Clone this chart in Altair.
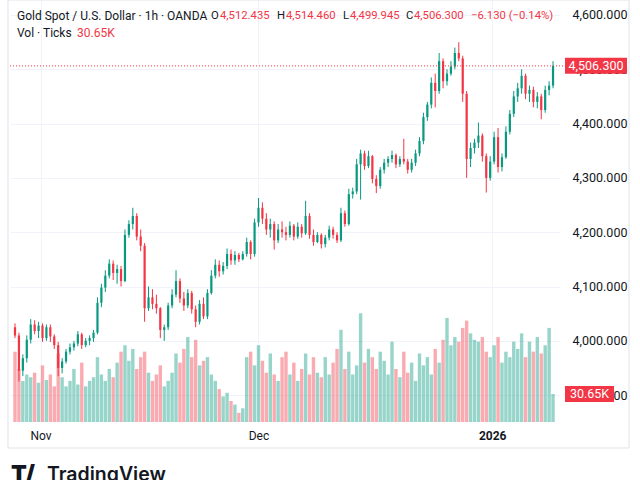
import altair as alt
import pandas as pd

# ---------------- data ----------------
opens = [4025, 4010, 3945, 3968, 4002, 4030, 4018, 4028, 4005, 4025,
         4008, 3992, 3950, 3962, 3980, 3988, 3995, 4012, 3992, 4000,
         4005, 4015, 4070, 4098, 4120, 4142, 4125, 4132, 4110, 4195,
         4215, 4230, 4192, 4175, 4060, 4080, 4068, 4060, 4020, 4025,
         4065, 4085, 4110, 4078, 4065, 4088, 4058, 4035, 4068, 4045,
         4088, 4120, 4140, 4128, 4138, 4160, 4148, 4158, 4150, 4160,
         4182, 4160, 4218, 4245, 4225, 4205, 4215, 4185, 4205, 4200,
         4195, 4212, 4192, 4210, 4198, 4230, 4195, 4182, 4195, 4178,
         4190, 4205, 4195, 4185, 4235, 4215, 4270, 4275, 4325, 4345,
         4322, 4340, 4298, 4285, 4315, 4328, 4335, 4342, 4325, 4335,
         4330, 4315, 4328, 4345, 4368, 4412, 4435, 4475, 4460, 4515,
         4478, 4492, 4505, 4530, 4520, 4455, 4335, 4355, 4365, 4378,
         4340, 4300, 4330, 4375, 4320, 4338, 4385, 4418, 4450, 4465,
         4488, 4455, 4462, 4440, 4450, 4425, 4462, 4470]
highs = [4032, 4015, 3975, 4010, 4040, 4038, 4035, 4032, 4030, 4030,
         4012, 3998, 3968, 3985, 3995, 4000, 4018, 4015, 4005, 4010,
         4020, 4080, 4105, 4130, 4150, 4148, 4140, 4138, 4205, 4222,
         4245, 4235, 4205, 4180, 4100, 4095, 4085, 4062, 4030, 4070,
         4095, 4130, 4115, 4090, 4095, 4092, 4065, 4075, 4080, 4095,
         4130, 4150, 4148, 4145, 4170, 4168, 4165, 4162, 4165, 4190,
         4185, 4225, 4263, 4255, 4235, 4225, 4220, 4215, 4220, 4210,
         4220, 4215, 4218, 4215, 4258, 4235, 4205, 4200, 4198, 4195,
         4212, 4210, 4200, 4245, 4240, 4280, 4282, 4335, 4352, 4350,
         4350, 4342, 4305, 4320, 4335, 4340, 4350, 4345, 4340, 4372,
         4335, 4335, 4352, 4375, 4420, 4440, 4485, 4492, 4530, 4520,
         4500, 4515, 4540, 4550, 4525, 4460, 4365, 4372, 4402, 4382,
         4345, 4340, 4385, 4392, 4345, 4395, 4425, 4460, 4475, 4500,
         4492, 4470, 4468, 4458, 4455, 4470, 4478, 4515]
lows = [4005, 3925, 3935, 3960, 3995, 4012, 4005, 3998, 4000, 3998,
        3985, 3935, 3940, 3958, 3975, 3982, 3990, 3985, 3988, 3992,
        3998, 4012, 4062, 4090, 4115, 4112, 4105, 4100, 4108, 4190,
        4205, 4185, 4165, 4035, 4055, 4058, 4050, 4005, 4000, 4020,
        4060, 4080, 4070, 4055, 4060, 4050, 4025, 4030, 4040, 4040,
        4085, 4115, 4118, 4122, 4132, 4140, 4140, 4145, 4148, 4155,
        4150, 4155, 4210, 4215, 4195, 4190, 4168, 4180, 4190, 4185,
        4190, 4185, 4188, 4190, 4195, 4188, 4175, 4180, 4170, 4172,
        4185, 4188, 4180, 4182, 4210, 4212, 4262, 4270, 4260, 4315,
        4318, 4290, 4272, 4280, 4308, 4320, 4328, 4318, 4320, 4325,
        4308, 4310, 4322, 4340, 4362, 4405, 4428, 4430, 4455, 4465,
        4470, 4488, 4500, 4515, 4440, 4300, 4320, 4345, 4355, 4330,
        4273, 4295, 4325, 4310, 4312, 4335, 4380, 4412, 4440, 4455,
        4445, 4440, 4430, 4428, 4408, 4420, 4452, 4465]
closes = [4010, 3945, 3968, 4002, 4030, 4018, 4028, 4005, 4025, 4008,
          3992, 3950, 3962, 3980, 3988, 3995, 4012, 3992, 4000, 4005,
          4015, 4070, 4098, 4120, 4142, 4125, 4132, 4110, 4195, 4215,
          4230, 4192, 4175, 4060, 4080, 4068, 4060, 4020, 4025, 4065,
          4085, 4110, 4078, 4065, 4088, 4058, 4035, 4068, 4045, 4088,
          4120, 4140, 4128, 4138, 4160, 4148, 4158, 4150, 4160, 4182,
          4160, 4218, 4245, 4225, 4205, 4215, 4185, 4205, 4200, 4195,
          4212, 4192, 4210, 4198, 4230, 4195, 4182, 4195, 4178, 4190,
          4205, 4195, 4185, 4235, 4215, 4270, 4275, 4325, 4345, 4322,
          4340, 4298, 4285, 4315, 4328, 4335, 4342, 4325, 4335, 4330,
          4315, 4328, 4345, 4368, 4412, 4435, 4475, 4460, 4515, 4478,
          4492, 4505, 4530, 4520, 4455, 4335, 4355, 4365, 4378, 4340,
          4300, 4330, 4375, 4320, 4338, 4385, 4418, 4450, 4465, 4488,
          4455, 4462, 4440, 4450, 4425, 4462, 4470, 4506.3]
volumes_k = [77, 58, 45, 52, 49, 54, 43, 62, 46, 52,
             39, 75, 49, 39, 45, 58, 41, 65, 39, 45,
             49, 71, 52, 45, 58, 49, 65, 77, 84, 67,
             80, 58, 71, 77, 54, 45, 52, 62, 39, 45,
             54, 75, 65, 80, 93, 71, 90, 62, 67, 71,
             52, 45, 36, 28, 32, 23, 19, 10, 15, 71,
             77, 62, 84, 67, 54, 75, 52, 45, 71, 77,
             52, 65, 45, 58, 75, 52, 71, 54, 49, 71,
             52, 65, 80, 101, 58, 77, 52, 62, 119, 65,
             80, 71, 58, 77, 67, 52, 88, 58, 49, 77,
             54, 65, 45, 75, 62, 71, 52, 80, 65, 90,
             114, 84, 93, 88, 103, 111, 97, 90, 88, 93,
             77, 71, 84, 93, 65, 77, 71, 88, 80, 97,
             71, 88, 77, 93, 75, 84, 103, 30.65]

time_tick_pos = [6.5, 62, 121.5]
time_tick_labels = ["Nov", "Dec", "2026"]
price_ticks = [3900, 4000, 4100, 4200, 4300, 4400, 4500, 4600]
last_price = 4506.3
last_volume_k = 30.65

# ---------------- styling ----------------
UP, DOWN = "#089981", "#f23645"
TXT = "#131722"
GRID = "#f0f3fa"
FONT = "Roboto"
FS = 12
HFS = 11.3
AFS = 12.5

df = pd.DataFrame({"i": list(range(len(closes))), "o": opens, "h": highs,
                   "l": lows, "c": closes, "v": volumes_k})
df["dir"] = ["up" if c >= o else "down" for o, c in zip(opens, closes)]

label_expr = " : ".join(
    f"datum.value == {p} ? '{t}'" for p, t in zip(time_tick_pos[:-1], time_tick_labels[:-1])
) + f" : '{time_tick_labels[-1]}'"

x_axis = alt.Axis(values=time_tick_pos, labelExpr=label_expr, title=None, grid=True,
                  gridColor=GRID, ticks=False, domain=False, labelColor=TXT,
                  labelFontSize=FS, labelFont=FONT, labelPadding=8,
                  labelFontWeight={"condition": {"test": f"datum.value > {time_tick_pos[1]}", "value": "bold"},
                                   "value": "normal"})
x_enc = alt.X("i:Q", scale=alt.Scale(domain=[0, 137.5], nice=False, zero=False), axis=x_axis)

price_scale = alt.Scale(domain=[3850.5, 4627.6], nice=False, zero=False)
y_axis = alt.Axis(orient="right", values=price_ticks, format=",.3f", title=None, grid=True,
                  gridColor=GRID, ticks=False, domain=False, labelPadding=12,
                  labelColor=TXT, labelFontSize=AFS, labelFont=FONT)
vol_scale = alt.Scale(domain=[0, 462], nice=False, zero=True)

color = alt.Color("dir:N", scale=alt.Scale(domain=["up", "down"], range=[UP, DOWN]), legend=None)

base = alt.Chart(df)

vol_bars = base.mark_bar(size=3.4, opacity=0.42).encode(
    x=x_enc, y=alt.Y("v:Q", scale=vol_scale, axis=None), color=color)

wicks = base.mark_rule(strokeWidth=1).encode(
    x=x_enc, y=alt.Y("l:Q", scale=price_scale, axis=y_axis), y2="h:Q", color=color)
bodies = base.mark_bar(size=2.2).encode(
    x=x_enc, y=alt.Y("o:Q", scale=price_scale, axis=y_axis), y2="c:Q", color=color)

last_df = pd.DataFrame({"p": [last_price], "v": [last_volume_k],
                        "pl": [f"{last_price:,.3f}"], "vl": [f"{last_volume_k}K"]})
lb = alt.Chart(last_df)
last_line = lb.mark_rule(strokeDash=[1, 2], color=DOWN, strokeWidth=1).encode(
    y=alt.Y("p:Q", scale=price_scale, axis=y_axis), x=alt.value(0), x2=alt.value(553))
last_box = lb.mark_rule(strokeWidth=16, color=DOWN, strokeCap="butt").encode(
    y=alt.Y("p:Q", scale=price_scale, axis=y_axis), x=alt.value(555), x2=alt.value(617))
last_txt = lb.mark_text(color="white", fontSize=AFS, font=FONT, align="center", baseline="middle").encode(
    y=alt.Y("p:Q", scale=price_scale, axis=y_axis), x=alt.value(586), text="pl:N")

vol_box = lb.mark_rule(strokeWidth=16, color=DOWN, strokeCap="butt").encode(
    y=alt.Y("v:Q", scale=vol_scale, axis=None), x=alt.value(555), x2=alt.value(604))
vol_txt = lb.mark_text(color="white", fontSize=AFS, font=FONT, align="center", baseline="middle").encode(
    y=alt.Y("v:Q", scale=vol_scale, axis=None), x=alt.value(579.5), text="vl:N")

one = pd.DataFrame({"a": [0]})


def label(text, x_abs, y_abs, col=TXT, size=HFS, weight="normal", baseline="middle", font=FONT):
    return alt.Chart(one).mark_text(text=text, color=col, fontSize=size, fontWeight=weight,
                                    font=font, align="left", baseline=baseline).encode(
        x=alt.value(x_abs - 10), y=alt.value(y_abs))


header = [
    label("Gold Spot / U.S. Dollar · 1h · OANDA", 17, 16, size=FS),
    label("O", 211, 16), label("4,512.435", 220, 16, DOWN),
    label("H", 277, 16), label("4,514.460", 286, 16, DOWN),
    label("L", 343, 16), label("4,499.945", 350, 16, DOWN),
    label("C", 406, 16), label("4,506.300", 414, 16, DOWN),
    label("\u22126.130 (\u22120.14%)", 471, 16, DOWN),
    label("Vol · Ticks", 17, 33, size=FS), label("30.65K", 77, 33, DOWN, FS),
    label("T/", 11, 482, TXT, 23, 900, "alphabetic", "Inter"),
    label("TradingView", 47, 481, TXT, 19.5, 600, "alphabetic", "Inter"),
]

frame = alt.Chart(one).mark_rect(fillOpacity=0, stroke="#e0e3eb", strokeWidth=1).encode(
    x=alt.value(-2), x2=alt.value(619), y=alt.value(0), y2=alt.value(448))

vol_layer = alt.layer(vol_bars, vol_box, vol_txt)
price_layer = alt.layer(wicks, bodies, last_line, last_box, last_txt)

chart = alt.layer(frame, vol_layer, price_layer, *header).resolve_scale(
    y="independent"
).properties(
    width=550, height=422,
    autosize=alt.AutoSizeParams(type="none"),
    padding={"left": 10, "top": 0, "right": 80, "bottom": 58},
    background="white",
).configure_view(stroke=None)

chart.save("out.html", embed_options={"renderer": "svg", "actions": False})
